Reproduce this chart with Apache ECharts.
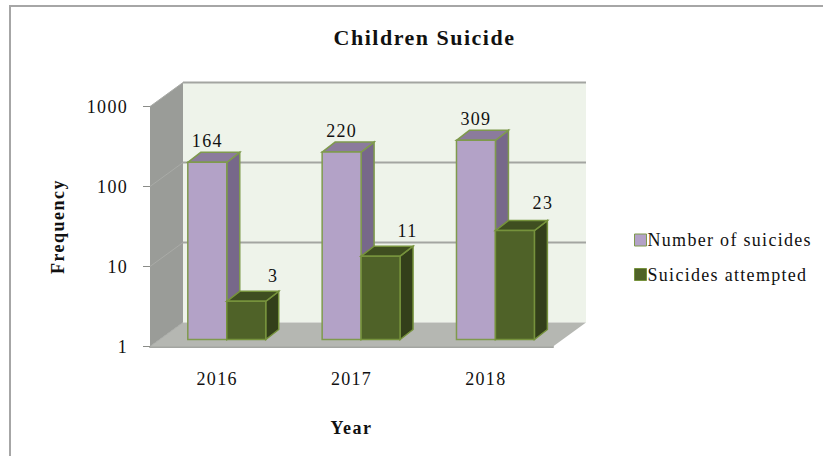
<!DOCTYPE html>
<html>
<head>
<meta charset="utf-8">
<style>
  html, body { margin: 0; padding: 0; background: #fff; }
  /* the original text is spaced wider than any installed serif */
  #main { width: 823px; height: 456px; letter-spacing: 1.3px; }
  #main text[style*="bold"] { letter-spacing: 1.5px; }
</style>
<script src="https://cdn.jsdelivr.net/npm/echarts@6/dist/echarts.min.js"></script>
</head>
<body>
<div id="main"></div>
<script>
const years = ['2016', '2017', '2018']
const suicides = [164, 220, 309]
const attempted = [3, 11, 23]
const yTicks = [1, 10, 100, 1000]

const FONT = '"Liberation Serif", "Times New Roman", serif'
// 3D look: how far the back wall sits from the front plane, in px
const DEPTH_X = 33
const DEPTH_Y = -24
// bars stand part way into the floor
const BAR_IN_X = 9.6
const BAR_IN_Y = -7
const BAR_DX = 13
const BAR_DY = -10

const purple = { front: '#b3a2c7', side: '#77688a', top: '#8b7b9c', edge: '#7f9a4d' }
const green = { front: '#4f6228', side: '#333f1a', top: '#3f4e20', edge: '#76923c' }

// the green labels sit off to the right of their bars in the original
const purpleNudge = [[0, 0], [0, 0], [0, 0]]
const greenNudge = [[27, -4], [27, -4], [28, -6.5]]

const poly = (points, fill, stroke) => ({
  type: 'polygon',
  shape: { points },
  style: { fill, stroke: stroke || null, lineWidth: stroke ? 1.5 : 0 },
  silent: true
})

const line = (x1, y1, x2, y2, stroke, lineWidth) => ({
  type: 'line',
  shape: { x1, y1, x2, y2 },
  style: { stroke, lineWidth },
  silent: true
})

// wall, floor and grid lines behind the bars
const renderBackdrop = (params, api) => {
  const { x, y, width: w, height: h } = params.coordSys
  const children = [
    poly([[x + DEPTH_X, y + DEPTH_Y], [x + w + DEPTH_X, y + DEPTH_Y], [x + w + DEPTH_X, y + h + DEPTH_Y], [x + DEPTH_X, y + h + DEPTH_Y]], '#eef3ea'),
    poly([[x, y], [x + DEPTH_X, y + DEPTH_Y], [x + DEPTH_X, y + h + DEPTH_Y], [x, y + h]], '#9a9c98'),
    poly([[x, y + h], [x + w, y + h], [x + w + DEPTH_X, y + h + DEPTH_Y], [x + DEPTH_X, y + h + DEPTH_Y]], '#b5b7b2')
  ]
  yTicks.forEach((t) => {
    const ty = api.coord([0, t])[1]
    if (t > 1) {
      children.push(line(x + DEPTH_X, ty + DEPTH_Y, x + w + DEPTH_X, ty + DEPTH_Y, '#a3a5a1', 2))
    }
    children.push(line(x, ty, x + DEPTH_X, ty + DEPTH_Y, '#a9aba7', 1))
  })
  return { type: 'group', children }
}

const barSeries = (name, values, slot, colors, nudge) => ({
  name,
  type: 'custom',
  z: 3,
  data: values.map((v, i) => [i, v]),
  itemStyle: { color: colors.front },
  renderItem: (params, api) => {
    const i = api.value(0)
    const v = api.value(1)
    const band = api.size([1, 0])[0]
    const barW = band * 0.29
    const left = api.coord([i, v])[0] + BAR_IN_X + slot * barW
    const right = left + barW
    const top = api.coord([i, v])[1] + BAR_IN_Y
    const bottom = api.coord([i, 1])[1] + BAR_IN_Y
    const [n1, n2] = nudge[i]
    return {
      type: 'group',
      children: [
        poly([[right, top], [right + BAR_DX, top + BAR_DY], [right + BAR_DX, bottom + BAR_DY], [right, bottom]], colors.side, colors.edge),
        poly([[left, top], [left + BAR_DX, top + BAR_DY], [right + BAR_DX, top + BAR_DY], [right, top]], colors.top, colors.edge),
        poly([[left, top], [right, top], [right, bottom], [left, bottom]], colors.front, colors.edge),
        {
          type: 'text',
          z2: 10,
          style: {
            x: left + barW / 2 + n1,
            y: top + BAR_DY - 11.5 + n2,
            text: String(v),
            fill: '#111',
            font: '18px ' + FONT,
            align: 'center',
            verticalAlign: 'middle'
          }
        }
      ]
    }
  }
})

const chart = echarts.init(document.getElementById('main'), null, { renderer: 'svg' })

chart.setOption({
  animation: false,
  backgroundColor: '#fff',
  textStyle: { fontFamily: FONT },
  graphic: [{
    type: 'polyline',
    shape: { points: [[10, 456], [10, 6], [823, 6]] },
    style: { stroke: '#a6a6a6', fill: null, lineWidth: 2 },
    silent: true
  }],
  title: {
    text: 'Children Suicide',
    left: 419.5,
    top: 21,
    textAlign: 'center',
    textStyle: { fontFamily: FONT, fontSize: 22, fontWeight: 'bold', color: '#111' }
  },
  legend: {
    orient: 'vertical',
    left: 629,
    top: 226,
    itemWidth: 12,
    itemHeight: 12,
    itemGap: 16.5,
    icon: 'rect',
    textStyle: { fontFamily: FONT, fontSize: 18, color: '#111', padding: [0, 0, 0, -4] },
    data: [
      { name: 'Number of suicides', itemStyle: { color: purple.front, borderColor: purple.edge, borderWidth: 1 } },
      { name: 'Suicides attempted', itemStyle: { color: green.front, borderColor: green.edge, borderWidth: 1 } }
    ]
  },
  grid: { left: 150, top: 106.5, width: 403, height: 240 },
  xAxis: {
    type: 'category',
    data: years,
    name: 'Year',
    nameLocation: 'middle',
    nameGap: 72,
    nameTextStyle: { fontFamily: FONT, fontSize: 18, fontWeight: 'bold', color: '#111' },
    axisTick: { show: false },
    axisLine: { lineStyle: { color: '#a3a5a1', width: 2 } },
    axisLabel: { fontFamily: FONT, fontSize: 18, color: '#111', margin: 23 }
  },
  yAxis: {
    type: 'log',
    logBase: 10,
    min: 1,
    max: 1000,
    name: 'Frequency',
    nameLocation: 'middle',
    nameRotate: 90,
    nameGap: 83,
    nameTextStyle: { fontFamily: FONT, fontSize: 18, fontWeight: 'bold', color: '#111' },
    splitLine: { show: false },
    axisLine: { show: true, lineStyle: { color: '#a3a5a1' } },
    axisTick: { show: true, length: 7, lineStyle: { color: '#8a8c88' } },
    axisLabel: { fontFamily: FONT, fontSize: 18, color: '#111', margin: 22, formatter: (v) => String(v) }
  },
  series: [
    {
      type: 'custom',
      z: 1,
      silent: true,
      data: [[0, 1]],
      renderItem: renderBackdrop
    },
    barSeries('Number of suicides', suicides, -1, purple, purpleNudge),
    barSeries('Suicides attempted', attempted, 0, green, greenNudge)
  ]
})
</script>
</body>
</html>
